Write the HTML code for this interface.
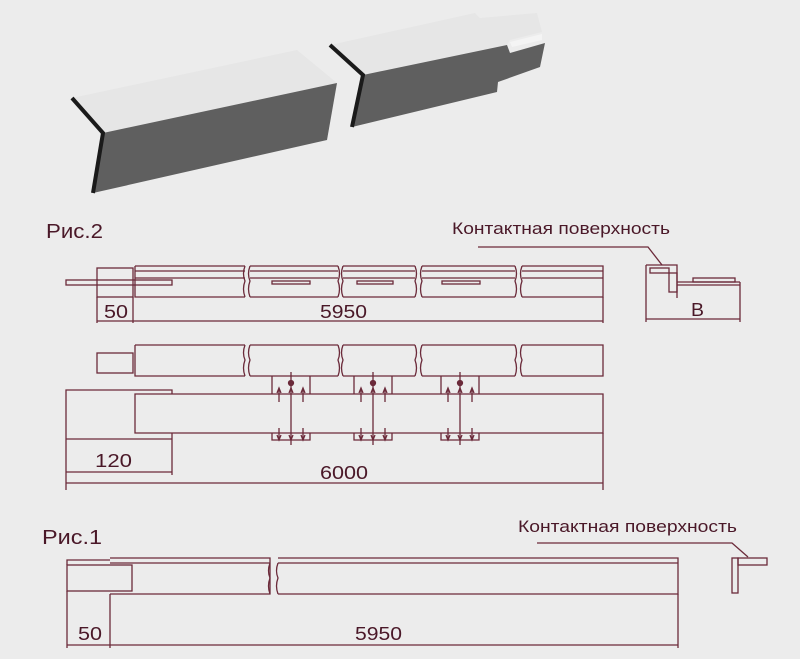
<!DOCTYPE html>
<html><head><meta charset="utf-8"><style>
html,body{margin:0;padding:0;background:#ececec;}
svg{display:block;}
text{font-family:"Liberation Sans",sans-serif;fill:#4a1828;}
</style></head><body>
<svg width="800" height="659" viewBox="0 0 800 659" xmlns="http://www.w3.org/2000/svg">
<rect width="800" height="659" fill="#ececec"/>
<!-- 3D pieces -->
<polygon points="72,98 297,50 337,83 103,133" fill="#e6e6e6"/>
<polygon points="103,133 337,83 327,140 93,193" fill="#5f5f5f"/>
<polyline points="72,98 103,133 93,193" fill="none" stroke="#1a1a1a" stroke-width="4"/>
<polygon points="330,45 475,13 480,18 537,13 542,32 510,40 507,45 363,75" fill="#e6e6e6"/>
<polygon points="363,75 507,45 510,53 545,43 540,67 498,82 497,92 352,127" fill="#5f5f5f"/>
<polygon points="510,42 542,34 542,40 512,47" fill="#f4f4f4"/>
<polyline points="330,45 363,75 352,127" fill="none" stroke="#1a1a1a" stroke-width="4"/>

<g fill="none" stroke="#6b2a3a" stroke-width="1.3">
<!-- Fig2 top view -->
<rect x="97" y="268" width="36" height="29"/>
<rect x="66" y="280" width="106" height="5"/>
<path d="M135,266 H245 M250,266 H338 M343,266 H415 M422,266 H515 M522,266 H603 V297 H522 M515,297 H422 M415,297 H343 M338,297 H250 M245,297 H135 V266"/>
<path d="M135,271 H245 M250,271 H338 M343,271 H415 M422,271 H515 M522,271 H603"/>
<path d="M135,278 H245 M250,278 H338 M343,278 H415 M422,278 H515 M522,278 H603"/>
<path d="M245,266 q-3,8 0,15 q-3,8 0,16 M250,266 q-3,8 0,15 q-3,8 0,16 M338,266 q3,8 0,15 q3,8 0,16 M343,266 q-3,8 0,15 q-3,8 0,16 M415,266 q3,8 0,15 q3,8 0,16 M422,266 q-3,8 0,15 q-3,8 0,16 M515,266 q3,8 0,15 q3,8 0,16 M522,266 q-3,8 0,15 q-3,8 0,16"/>
<rect x="272" y="281" width="38" height="3"/><rect x="357" y="281" width="36" height="3"/><rect x="442" y="281" width="38" height="3"/>
<path d="M97,297 V323 M133,297 V323 M603,297 V323 M97,321 H603"/>
<!-- Fig2 second view -->
<path d="M135,345 H245 M250,345 H338 M343,345 H415 M422,345 H515 M522,345 H603 V376 H522 M515,376 H422 M415,376 H343 M338,376 H250 M245,376 H135 V345"/>
<path d="M245,345 q-3,8 0,15 q-3,8 0,16 M250,345 q-3,8 0,15 q-3,8 0,16 M338,345 q3,8 0,15 q3,8 0,16 M343,345 q-3,8 0,15 q-3,8 0,16 M415,345 q3,8 0,15 q3,8 0,16 M422,345 q-3,8 0,15 q-3,8 0,16 M515,345 q3,8 0,15 q3,8 0,16 M522,345 q-3,8 0,15 q-3,8 0,16"/>
<rect x="97" y="353" width="36" height="20"/>
<path d="M135,394 H603 V433 H135 Z"/>
<path d="M66,490 V390 H172 V394 M66,439 H172 M172,433 V475 M66,472 H172 M66,483 H603 M603,433 V490"/>
<g id="br">
<path d="M272,376 V394 M310,376 V394 M291,372 V445 M272,433 V440 H310 V433 M279,402 V389 M303,402 V389 M279,428 V440 M303,428 V440"/>
<circle cx="291" cy="383" r="2.5" fill="#6b2a3a"/>
<path d="M277,393 L279,388 L281,393 M301,393 L303,388 L305,393 M289,393 L291,388 L293,393 M277,435 L279,440 L281,435 M301,435 L303,440 L305,435 M289,435 L291,440 L293,435" />
</g>
<use href="#br" transform="translate(82,0)"/>
<use href="#br" transform="translate(169,0)"/>
<!-- profile right -->
<path d="M646,265 V322 M646,265 H677 V298 M740,282 V322 M646,319 H740"/>
<rect x="650" y="268" width="19" height="5"/>
<rect x="669" y="273" width="8" height="19"/>
<path d="M677,282 H740 M677,285 H740"/>
<rect x="693" y="278" width="42" height="4"/>
<path d="M478,247 H648 L662,265"/>
<!-- Fig1 -->
<rect x="67" y="565" width="65" height="26"/>
<path d="M67,565 V560 H110 M110,558 H270 V594 H110 M278,558 H678 V594 H278 M110,563 H270 M278,563 H678"/>
<path d="M270,563 q-3,8 0,15 q-3,8 0,16 M278,563 q-3,8 0,15 q-3,8 0,16"/>
<path d="M67,591 V648 M110,594 V648 M678,594 V648 M67,645 H678"/>
<rect x="732" y="558" width="6" height="35"/>
<rect x="738" y="558" width="29" height="7"/>
<path d="M537,543 H732 L748,557"/>
</g>
<text x="46" y="238" font-size="20" textLength="57" lengthAdjust="spacingAndGlyphs">Рис.2</text>
<text x="452" y="234" font-size="17" textLength="218" lengthAdjust="spacingAndGlyphs">Контактная поверхность</text>
<text x="104" y="318" font-size="18" textLength="24" lengthAdjust="spacingAndGlyphs">50</text>
<text x="320" y="318" font-size="18" textLength="47" lengthAdjust="spacingAndGlyphs">5950</text>
<text x="95" y="467" font-size="18" textLength="37" lengthAdjust="spacingAndGlyphs">120</text>
<text x="320" y="479" font-size="18" textLength="48" lengthAdjust="spacingAndGlyphs">6000</text>
<text x="691" y="316" font-size="18" textLength="13" lengthAdjust="spacingAndGlyphs">B</text>
<text x="42" y="544" font-size="20" textLength="60" lengthAdjust="spacingAndGlyphs">Рис.1</text>
<text x="518" y="532" font-size="17" textLength="219" lengthAdjust="spacingAndGlyphs">Контактная поверхность</text>
<text x="78" y="640" font-size="18" textLength="24" lengthAdjust="spacingAndGlyphs">50</text>
<text x="355" y="640" font-size="18" textLength="47" lengthAdjust="spacingAndGlyphs">5950</text>
</svg>
</body></html>
